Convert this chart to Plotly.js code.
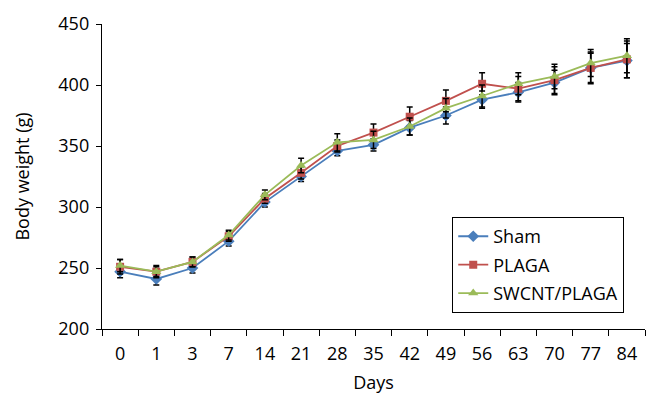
<!DOCTYPE html>
<html><head><meta charset="utf-8">
<script src="https://cdn.plot.ly/plotly-3.0.1.min.js"></script>
<style>body{margin:0;padding:0;background:#fff}#chart{width:647px;height:395px}</style>
</head><body><div id="chart"></div>
<script>
const days = ["0","1","3","7","14","21","28","35","42","49","56","63","70","77","84"];
const sham  = [247,241,250,272,304,325,346,351,365,375,388,394,402,414,420];
const plaga = [251,247,255,276,307,328,350,361,374,387,401,397,404,414,421];
const swcnt = [252,247,255,277,310,334,353,355,366,381,391,401,407,418,424];
const shamErr  = [5,5,4,4,4,4,4,5,6,7,7,8,10,12,14];
const plagaErr = [6,5,4,4,4,5,5,7,8,9,9,10,11,13,15];
const swcntErr = [5,4,4,4,4,6,7,7,7,8,9,9,10,11,14];

const font = "Open Sans, Lato, sans-serif";
function tr(name, y, err, color, sym, size){
  return {x: days, y: y, name: name, legendgroup: name, type: 'scatter', mode: 'lines+markers',
    line: {color: color, width: 1.8},
    marker: {color: color, symbol: sym, size: size},
    error_y: {type: 'data', array: err, visible: true, color: '#000', thickness: 1.5, width: 3}};
}
const data = [
  tr('Sham', sham, shamErr, '#4A7EBB', 'diamond', 9),
  tr('PLAGA', plaga, plagaErr, '#C0504D', 'square', 8),
  tr('SWCNT/PLAGA', swcnt, swcntErr, '#9BBB59', 'triangle-up', 9)
];
const layout = {
  width: 647, height: 395,
  margin: {l: 102, r: 2, t: 24, b: 66},
  paper_bgcolor: '#fff', plot_bgcolor: '#fff',
  font: {family: font, size: 18, color: '#000'},
  showlegend: true,
  legend: {x: 0.645, y: 0.367, xanchor: 'left', yanchor: 'top',
    bordercolor: '#000', borderwidth: 1, bgcolor: '#fff',
    font: {family: font, size: 18, color: '#000'}, tracegroupgap: 2, itemwidth: 30},
  xaxis: {type: 'category', range: [-0.5, 14.5], tickson: 'boundaries',
    showgrid: false, zeroline: false, showline: true, linecolor: '#000', linewidth: 1.2,
    ticks: 'outside', ticklen: 6, tickcolor: '#000', ticklabelstandoff: 8,
    tickfont: {family: font, size: 18},
    title: {text: 'Days', font: {family: font, size: 18}, standoff: 12}},
  yaxis: {range: [200, 450], dtick: 50, showgrid: false, zeroline: false,
    showline: true, linecolor: '#000', linewidth: 1.2,
    ticks: 'outside', ticklen: 5, tickcolor: '#000', ticklabelstandoff: 3,
    tickfont: {family: font, size: 18},
    title: {text: 'Body weight (g)', font: {family: font, size: 18}, standoff: 24}}
};
Plotly.newPlot('chart', data, layout, {displayModeBar: false, staticPlot: true});
</script></body></html>
